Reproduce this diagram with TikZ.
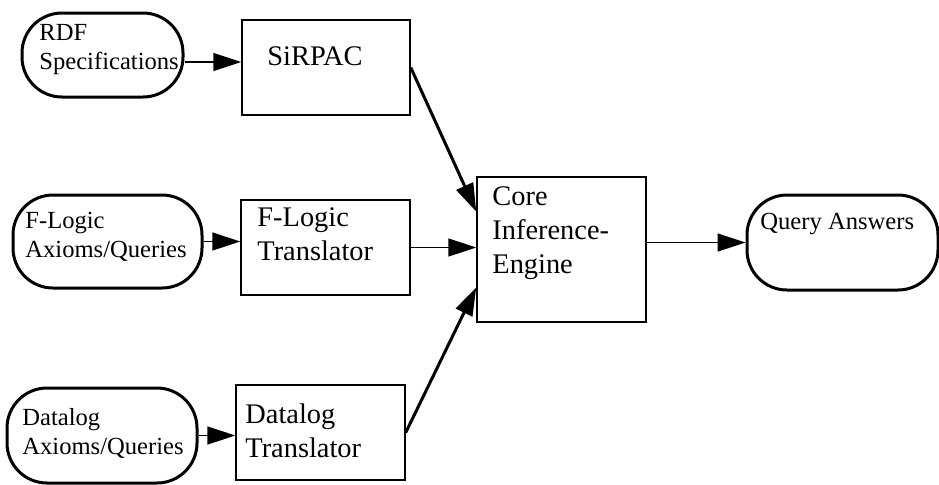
\documentclass[tikz,border=0pt]{standalone}
\usepackage{fontspec}
\setmainfont{Liberation Serif}
\usetikzlibrary{arrows.meta, positioning, calc}

\begin{document}
\begin{tikzpicture}[
        x=0.5pt, y=-0.5pt,
        term/.style={rectangle, draw, line width=1.5pt, rounded corners=20pt, inner sep=0pt},
        proc/.style={rectangle, draw, line width=0.75pt, inner sep=0pt},
        small/.style={anchor=north west, inner sep=0pt, align=left, font=\fontsize{12.3pt}{14.5pt}\selectfont},
        big/.style={anchor=north west, inner sep=0pt, align=left, font=\fontsize{14.2pt}{17pt}\selectfont},
        arrow/.style={-{Triangle[length=14pt, width=9pt]}, line width=0.75pt},
        thickarrow/.style={-{Triangle[length=14pt, width=9pt]}, line width=1.5pt}
    ]
        \useasboundingbox (0,0) rectangle (939,484);

        % inputs
        \node[term, minimum width=80.5pt, minimum height=42pt] (rdf) at (102.5,55) {};
        \node[term, minimum width=94.5pt, minimum height=46.5pt] (flogic) at (107.5,241.5) {};
        \node[term, minimum width=95pt, minimum height=47.5pt] (dlog) at (102,435.5) {};
        \node[small] (rdftxt) at (39,24) {RDF\\Specifications};
        \node[small] (flogictxt) at (25,212) {F-Logic\\Axioms/Queries};
        \node[small] (dlogtxt) at (22,408) {Datalog\\Axioms/Queries};

        % translators
        \node[proc, minimum width=84pt, minimum height=47.5pt] (sirpac) at (326,67.5) {};
        \node[proc, minimum width=84.5pt, minimum height=47.5pt] (fltrans) at (325.5,247.5) {};
        \node[proc, minimum width=84.5pt, minimum height=47.5pt] (dltrans) at (320.5,432.5) {};
        \node[big] (sirpactxt) at (267,46) {SiRPAC};
        \node[big] (fltranstxt) at (257,207) {F-Logic\\Translator};
        \node[big] (dltranstxt) at (245,403) {Datalog\\Translator};

        % engine and output
        \node[proc, minimum width=84.5pt, minimum height=72.5pt] (core) at (561.5,249.5) {};
        \node[big] (coretxt) at (492,186) {Core\\Inference-\\Engine};
        \node[term, minimum width=95.5pt, minimum height=47.5pt] (query) at (842.5,242.5) {};
        \node[small] (querytxt) at (760,213) {Query Answers};

        \draw[arrow] ([yshift=-3.5pt]rdf.east) -- ([yshift=-3.5pt]rdf.east -| sirpac.west);
        \draw[arrow] (flogic.east) -- (flogic.east -| fltrans.west);
        \draw[arrow] (dlog.east) -- (dlog.east -| dltrans.west);
        \draw[thickarrow] (sirpac.east) -- (core.156);
        \draw[arrow] (fltrans.east) -- (fltrans.east -| core.west);
        \draw[thickarrow] (dltrans.east) -- (core.204);
        \draw[arrow] (query.west -| core.east) -- (query.west);
    \end{tikzpicture}
\end{document}
